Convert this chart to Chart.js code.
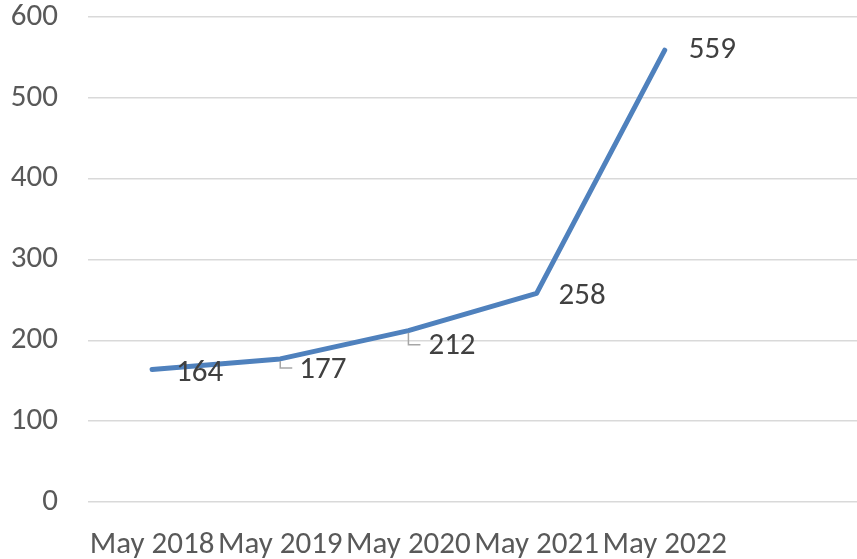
<!DOCTYPE html>
<html>
<head>
<meta charset="utf-8">
<script src="https://cdn.jsdelivr.net/npm/chart.js@4/dist/chart.umd.min.js"></script>
<style>
  html, body { margin: 0; padding: 0; background: #fff; }
  #wrap { width: 857px; height: 559px; }
</style>
</head>
<body>
<div id="wrap"><canvas id="grafico"></canvas></div>
<script>
// dados do gráfico
const categorias = ["May 2018", "May 2019", "May 2020", "May 2021", "May 2022", ""];
const valores = [164, 177, 212, 258, 559];
const ticksY = [0, 100, 200, 300, 400, 500, 600];

const fonte = "Carlito, 'Liberation Sans', Arial, sans-serif";

// rótulos de dados à direita de cada ponto (com linha guia em alguns)
const rotulosPlugin = {
  id: "rotulos",
  afterDatasetsDraw(chart) {
    const ctx = chart.ctx;
    const meta = chart.getDatasetMeta(0);
    ctx.save();
    ctx.font = "31px " + fonte;
    ctx.fillStyle = "#404040";
    ctx.textBaseline = "middle";
    ctx.textAlign = "left";
    const desloc = [[24, 4], [19, 11], [20, 16], [22, 3], [24, 0]];
    const guia = [false, true, true, false, false];
    meta.data.forEach((p, i) => {
      const dx = desloc[i][0], dy = desloc[i][1];
      if (guia[i]) {
        ctx.strokeStyle = "#a6a6a6";
        ctx.lineWidth = 1.5;
        ctx.beginPath();
        ctx.moveTo(p.x, p.y + 2);
        ctx.lineTo(p.x, p.y + dy - 2);
        ctx.lineTo(p.x + 12, p.y + dy - 2);
        ctx.stroke();
      }
      ctx.fillText(String(valores[i]), p.x + dx, p.y + dy);
    });
    ctx.restore();
  }
};

new Chart(document.getElementById("grafico"), {
  type: "line",
  data: {
    labels: categorias,
    datasets: [{
      data: valores,
      borderColor: "#4f81bd",
      borderWidth: 5,
      borderCapStyle: "round",
      borderJoinStyle: "round",
      pointRadius: 0,
      tension: 0,
      fill: false
    }]
  },
  options: {
    responsive: true,
    maintainAspectRatio: false,
    animation: false,
    layout: { padding: { top: 0, right: 0, left: 0, bottom: 0 } },
    plugins: { legend: { display: false }, tooltip: { enabled: false } },
    scales: {
      x: {
        offset: true,
        grid: { display: false },
        border: { display: false },
        ticks: {
          autoSkip: false, maxRotation: 0, minRotation: 0,
          color: "#595959", font: { family: fonte, size: 31 }, padding: 17
        },
        afterFit(s) { s.height = 57; }
      },
      y: {
        min: 0, max: 600,
        afterBuildTicks(s) { s.ticks = ticksY.map(v => ({ value: v })); },
        grid: { color: "#d9d9d9", lineWidth: 1.5, drawTicks: false },
        border: { display: false },
        ticks: { color: "#595959", font: { family: fonte, size: 31 }, padding: 30 },
        afterFit(s) { s.width = 88; s.paddingTop = 17; s.paddingBottom = 17; }
      }
    }
  },
  plugins: [rotulosPlugin]
});
</script>
</body>
</html>
